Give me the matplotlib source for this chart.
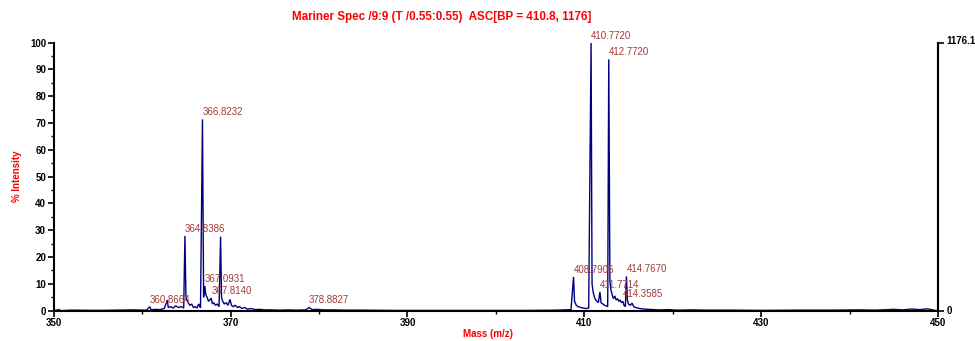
import numpy as np
import matplotlib
matplotlib.use("Agg")
import matplotlib.pyplot as plt
from matplotlib.ticker import MultipleLocator

plt.rcParams['font.family'] = ['Liberation Sans', 'DejaVu Sans']

# Labelled peaks (m/z, % intensity)
label_mz = [360.8664, 364.8386, 366.8232, 367.0931, 367.8140, 378.8827,
            408.7906, 410.7720, 411.7714, 412.7720, 414.3585, 414.7670]
label_int = [1.5, 27.9, 71.4, 9.2, 4.7, 1.2,
             12.6, 100.0, 7.0, 93.8, 3.5, 12.8]

# Remaining profile points of the spectrum trace (m/z, % intensity)
trace_mz = [350.0, 350.6, 350.8, 352.0, 355.0, 357.0, 359.0, 360.5,
            361.0, 361.5, 362.0, 362.5, 362.85, 362.95, 363.2, 363.5, 363.8,
            364.1, 364.4, 364.7, 364.95, 365.05, 365.2, 365.4, 365.6, 365.8,
            366.0, 366.2, 366.4, 366.6, 366.95, 367.2, 367.35, 367.5, 367.65,
            367.95, 368.1, 368.3, 368.5, 368.7, 368.87, 368.98, 369.1, 369.3,
            369.5, 369.7, 369.94, 370.1, 370.3, 370.5, 370.8, 371.0, 371.3,
            371.6, 371.9, 372.3, 372.8, 373.3, 373.8, 374.5, 375.5, 376.5,
            377.5, 378.5, 379.2, 379.8, 380.5, 381.5, 383.0, 385.0, 388.0,
            392.0, 396.0, 400.0, 404.0, 407.0, 408.5, 408.9, 409.1, 409.3,
            409.6, 409.9, 410.2, 410.5, 410.88, 411.0, 411.15, 411.3, 411.45,
            411.6, 411.9, 412.1, 412.3, 412.5, 412.65, 412.9, 413.0, 413.15,
            413.3, 413.45, 413.6, 413.75, 413.9, 414.05, 414.2, 414.5, 414.65,
            414.88, 415.0, 415.2, 415.4, 415.6, 415.8, 416.0, 416.3, 416.7,
            417.2, 417.8, 418.5, 419.5, 420.5, 422.0, 424.0, 427.0, 430.0,
            434.0, 438.0, 441.0, 443.0, 445.0, 446.0, 447.0, 448.0, 448.8,
            449.5, 450.0]
trace_int = [0.0, 0.4, 0.0, 0.2, 0.1, 0.2, 0.3, 0.2,
             0.3, 0.5, 0.4, 0.8, 4.0, 1.2, 1.5, 1.0, 1.8,
             1.2, 1.5, 1.0, 5.5, 4.0, 3.0, 2.0, 2.5, 1.2,
             1.5, 1.0, 2.5, 1.0, 5.0, 6.0, 5.0, 3.5, 4.0,
             2.5, 3.0, 2.0, 2.5, 1.5, 27.6, 5.0, 3.5, 2.5,
             3.0, 2.0, 4.2, 2.0, 1.5, 2.0, 1.2, 1.5, 0.8,
             1.2, 0.6, 0.8, 0.4, 0.5, 0.3, 0.3, 0.2, 0.3,
             0.2, 0.3, 0.4, 0.5, 0.3, 0.3, 0.2, 0.2, 0.1,
             0.1, 0.1, 0.1, 0.1, 0.2, 0.4, 3.5, 2.0, 1.5,
             1.2, 1.0, 0.8, 1.0, 10.0, 7.0, 5.0, 4.0, 3.5,
             3.0, 3.0, 2.5, 2.0, 1.8, 1.5, 11.0, 8.0, 6.0,
             4.5, 5.5, 4.0, 4.5, 3.5, 4.0, 3.0, 2.0, 1.5,
             4.0, 2.5, 2.0, 2.8, 1.5, 1.2, 1.0, 0.8, 0.6,
             0.5, 0.4, 0.3, 0.4, 0.2, 0.3, 0.2, 0.2, 0.1,
             0.2, 0.2, 0.3, 0.2, 0.5, 0.3, 0.6, 0.4, 0.7,
             0.2, 0.0]

x_major = [350, 370, 390, 410, 430, 450]
x_minor = [360, 380, 400, 420, 440]
base_peak_counts = 1176.1
right_ticks = [0, base_peak_counts]
right_labels = ["0", "1176.1"]
title_text = "Mariner Spec /9:9 (T /0.55:0.55)  ASC[BP = 410.8, 1176]"

mz = np.array(trace_mz + label_mz)
inten = np.array(trace_int + label_int)
order = np.argsort(mz)
mz, inten = mz[order], inten[order]

fig = plt.figure(figsize=(9.75, 3.41), dpi=100)
ax = fig.add_axes([0.0551, 0.0889, 0.9069, 0.7859])

ax.plot(mz, inten, color='#000080', lw=1.0, solid_joinstyle='miter')

for m, v in zip(label_mz, label_int):
    ax.annotate(f"{m:.4f}", xy=(m, v), xytext=(0, 1.5), textcoords='offset points',
                ha='left', va='bottom', fontsize=7, color='#a33a3a')

ax.set_xlim(350, 450)
ax.set_ylim(0, 100)
ax.set_xticks(x_major)
ax.set_xticks(x_minor, minor=True)
ax.yaxis.set_major_locator(MultipleLocator(10))
ax.yaxis.set_minor_locator(MultipleLocator(5))

ax.spines['top'].set_visible(False)
for side in ('left', 'bottom', 'right'):
    ax.spines[side].set_linewidth(1.5)

ax.tick_params(axis='both', which='major', length=4, width=1.2, direction='out',
               labelsize=7, pad=1.5)
ax.tick_params(axis='both', which='minor', length=2.5, width=1.0, direction='out')
for lab in ax.get_xticklabels() + ax.get_yticklabels():
    lab.set_fontweight('bold')

# Raw-count scale on the right side
ax2 = ax.twinx()
ax2.set_ylim(0, base_peak_counts)
ax2.set_yticks(right_ticks)
ax2.set_yticklabels([])
ax2.tick_params(axis='y', length=4, width=1.2)
for side in ('top', 'left', 'bottom'):
    ax2.spines[side].set_visible(False)
ax2.spines['right'].set_linewidth(1.5)
for val, txt in zip(right_ticks, right_labels):
    ax2.annotate(txt, xy=(1.0, val), xycoords=('axes fraction', 'data'),
                 xytext=(6, 1.5 if val else 0), textcoords='offset points',
                 ha='left', va='center', fontsize=7, fontweight='bold')

fig.text(488 / 975, 1 - 334 / 341, "Mass (m/z)", color='#ff0000', fontweight='bold',
         fontsize=7, ha='center', va='center')
ax.set_ylabel("% Intensity", color='#ff0000', fontweight='bold', fontsize=7, labelpad=6)

fig.text(292 / 975, 1 - 17 / 341, title_text, color='#ff0000', fontweight='bold',
         fontsize=8.4, ha='left', va='center')

fig.savefig("out.png", dpi=100)
